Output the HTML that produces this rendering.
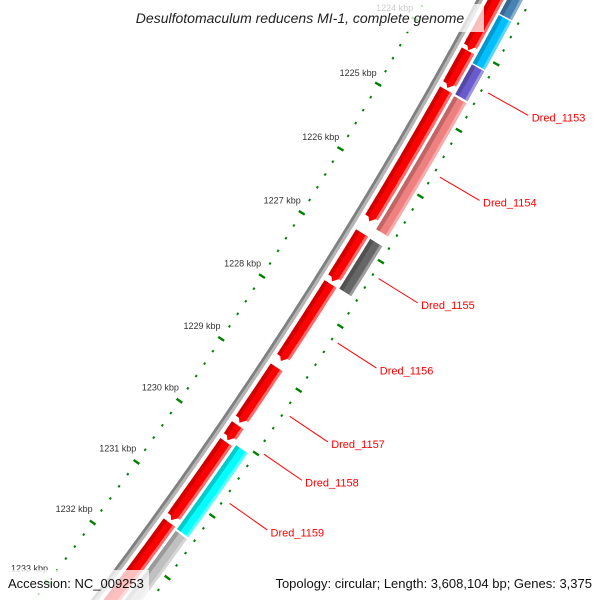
<!DOCTYPE html>
<html><head><meta charset="utf-8"><style>
html,body{margin:0;padding:0;background:#fff;width:600px;height:600px;overflow:hidden;}
svg{display:block;font-family:"Liberation Sans",sans-serif;overflow:hidden;}
</style></head><body>
<svg id="map" width="600" height="600" viewBox="0 0 600 600" xmlns="http://www.w3.org/2000/svg">
<g id="ticks"></g>
<g id="back"></g>
<g id="genes"></g>
<g id="labels"></g>
<rect x="113" y="4" width="371" height="28" fill="#fff" fill-opacity="0.75"/>
<text x="300" y="23" text-anchor="middle" font-size="14" font-style="italic" fill="#222">Desulfotomaculum reducens MI-1, complete genome</text>
<rect x="0" y="570" width="149" height="30" fill="#fff" fill-opacity="0.75"/>
<text x="8" y="588" font-size="13" fill="#111">Accession: NC_009253</text>
<text x="592" y="588" text-anchor="end" font-size="13" fill="#111">Topology: circular; Length: 3,608,104 bp; Genes: 3,375</text>
</svg>
<script>
// gene data (kbp)
const fwdStarts = [1222.0, 1224.03, 1224.62, 1226.81, 1227.60, 1228.91, 1229.83, 1230.10, 1231.40];
const fwdEnds   = [1224.02, 1224.59, 1226.63, 1227.56, 1228.81, 1229.79, 1230.07, 1231.36, 1233.5];
const fwdNames  = ["", "", "", "", "Dred_1156", "Dred_1157", "Dred_1158", "", ""];
const revStarts = [1222.0, 1223.42, 1224.16, 1224.64, 1226.82, 1230.06, 1231.44];
const revEnds   = [1223.40, 1224.14, 1224.61, 1226.67, 1227.59, 1231.41, 1233.5];
const revColors = ["#4682b4", "#00bfff", "#6a5acd", "#f08080", "#666666", "#00ffff", "#c0c0c0"];
const revNames  = ["", "", "Dred_1153", "Dred_1154", "Dred_1155", "Dred_1159", ""];
const tickKbp   = [1224, 1225, 1226, 1227, 1228, 1229, 1230, 1231, 1232, 1233];

const CX=-3554, CY=-2165, R0=4578;
const NS="http://www.w3.org/2000/svg";
function ang(k){return (29.77+0.9457*(k-1225))*Math.PI/180;}
function pt(k,r){const a=ang(k);return [CX+r*Math.cos(a),CY+r*Math.sin(a)];}
function arcPts(k1,k2,r){const p=[];const n=Math.max(2,Math.ceil(Math.abs(k2-k1)/0.04));for(let i=0;i<=n;i++){p.push(pt(k1+(k2-k1)*i/n,r));}return p;}
function mk(tag,attrs,parent){const e=document.createElementNS(NS,tag);for(const k in attrs)e.setAttribute(k,attrs[k]);parent.appendChild(e);return e;}
function band(k1,k2,r1,r2,fill,parent,arrow){
  let p;
  if(arrow){const ah=Math.min(0.12,(k2-k1)*0.6);const kb=k2-ah;
    p=arcPts(k1,kb,r1).concat([pt(kb,r1-0.5),pt(k2,(r1+r2)/2),pt(kb,r2+0.5)]).concat(arcPts(kb,k1,r2));
  } else p=arcPts(k1,k2,r1).concat(arcPts(k2,k1,r2));
  return mk('polygon',{points:p.map(q=>q[0].toFixed(1)+','+q[1].toFixed(1)).join(' '),fill:fill},parent);
}
const gT=document.getElementById('ticks'),gB=document.getElementById('back'),gG=document.getElementById('genes'),gL=document.getElementById('labels');

let b1=band(1221,1235,4575,4578,'#808080',gB,false);


let b2=band(1221,1235,4578,4581,'#b4b4b4',gB,false);



for(let i=0;i<=65;i++){
  const k=1221+i*0.2;
  const major=Math.abs(k-Math.round(k))<1e-6;
  [4530,4623].forEach(function(r){
    const len=major?3.5:1;
    const a=pt(k,r-len),c=pt(k,r+len);
    const l=mk('line',{x1:a[0],y1:a[1],x2:c[0],y2:c[1],stroke:'#008000','stroke-width':2.4},gT);
    
    
  });
}
tickKbp.forEach(function(k){
  const p=pt(k,4507);
  const t=mk('text',{x:p[0],y:p[1]+3,'text-anchor':'middle','font-size':9,fill:'#333'},gT);
  t.textContent=k+' kbp';
  
  
});

function drawGene(k1,k2,r1,r2,cols,arrow,name){
  const g=mk('g',{},gG);
  
  
  const w=r2-r1;
  band(k1,k2,r1,r2,cols[1],g,arrow);
  band(k1,k2-(arrow?0.05:0),r1,r1+w*0.3,cols[0],g,false);
  band(k1,k2-(arrow?0.07:0),r2-w*0.2,r2,cols[2],g,false);
}
function shade(hex,f){const n=parseInt(hex.slice(1),16);let r=n>>16,g=(n>>8)&255,b=n&255;
  const m=c=>f<0?Math.round(c*(1+f)):Math.round(c+(255-c)*f);
  return 'rgb('+m(r)+','+m(g)+','+m(b)+')';}
for(let i=0;i<fwdStarts.length;i++){
  drawGene(fwdStarts[i],fwdEnds[i],4585,4599,['#d00000','#ff0000','#ff6a6a'],true,fwdNames[i]);
}
for(let i=0;i<revStarts.length;i++){
  const c=revColors[i];
  drawGene(revStarts[i],revEnds[i],4602,4616,[shade(c,-0.2),c,shade(c,0.35)],false,revNames[i]);
}
function label(k,name){
  const a=pt(k,4630),b=pt(k,4676),t=pt(k,4680);
  const l=mk('line',{x1:a[0],y1:a[1],x2:b[0],y2:b[1],stroke:'#ff0000','stroke-width':1},gL);
  
  
  const tx=mk('text',{x:t[0],y:t[1]+4,'font-size':11,fill:'#ff0000'},gL);
  tx.textContent=name;
  
  
}
for(let i=0;i<fwdStarts.length;i++) if(fwdNames[i]) label((fwdStarts[i]+fwdEnds[i])/2,fwdNames[i]);
for(let i=0;i<revStarts.length;i++) if(revNames[i]) label((revStarts[i]+revEnds[i])/2,revNames[i]);
</script>
</body></html>
